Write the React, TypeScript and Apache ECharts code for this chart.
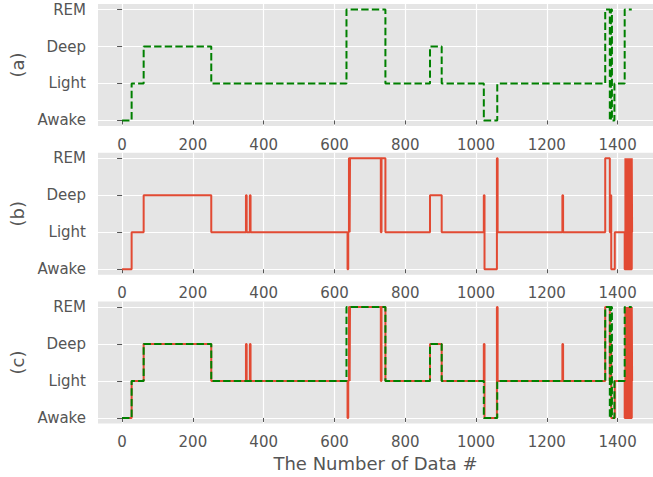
import React, { useEffect, useRef } from "react";
import * as echarts from "echarts";

const stageLabels = ["Awake", "Light", "Deep", "REM"];
const xTicks = [0, 200, 400, 600, 800, 1000, 1200, 1400];
const yTicks = [0, 1, 2, 3];
const panelNames = ["(a)", "(b)", "(c)"];
const xTitle = "The Number of Data #";

// reference (green dashed): start index of each segment and its stage
const trueStarts = [0, 27, 61, 252, 634, 744, 870, 903, 1022, 1060, 1365, 1378, 1381, 1384, 1391, 1420, 1440];
const trueStages = [0, 1, 2, 1, 3, 1, 2, 1, 0, 1, 3, 0, 3, 0, 1, 3, 3];

// predicted (red solid)
const predStarts = [0, 27, 61, 252, 350, 352, 361, 363, 637, 639, 641, 643, 644, 731, 733, 744, 870, 903, 1022, 1024, 1059, 1061, 1244, 1246, 1365, 1378, 1380, 1382, 1392, 1420, 1422, 1423, 1425, 1426, 1428, 1429, 1431, 1432, 1434, 1435, 1437, 1438, 1440, 1441, 1442];
const predStages = [0, 1, 2, 1, 2, 1, 2, 1, 0, 1, 3, 1, 3, 1, 3, 1, 2, 1, 2, 0, 3, 1, 2, 1, 3, 1, 2, 0, 1, 0, 3, 0, 3, 0, 3, 0, 3, 0, 3, 0, 3, 0, 3, 1, 1];

const FONT = "DejaVu Sans";
const TXT = "#555555";
const GREEN = "#008000";
const RED = "#E24A33";

export default function App() {
  const ref = useRef<HTMLDivElement>(null);
  useEffect(() => {
    if (!ref.current) return;
    const chart = echarts.init(ref.current, null, { renderer: "svg" });
    const tops = [4, 152.8, 301.5];
    const grids = tops.map((t) => ({
      left: 95,
      top: t,
      width: 558,
      height: 122,
      show: true,
      backgroundColor: "#E5E5E5",
      borderWidth: 0,
    }));
    const xAxes = tops.map((_, i) => ({
      type: "value",
      gridIndex: i,
      min: -68,
      max: 1500,
      axisLine: { show: false },
      axisTick: { show: true, length: 4, lineStyle: { color: TXT }, customValues: xTicks },
      axisLabel: {
        color: TXT,
        fontFamily: FONT,
        fontSize: 15,
        margin: 11,
        customValues: xTicks,
        formatter: (v: number) => String(v),
      },
      splitLine: { show: true, lineStyle: { color: "#FFFFFF", width: 1.2 } },
      name: i === 2 ? xTitle : "",
      nameLocation: "middle",
      nameGap: 31,
      nameTextStyle: { color: TXT, fontFamily: FONT, fontSize: 18 },
    }));
    const yAxes = tops.map((_, i) => ({
      type: "value",
      gridIndex: i,
      min: -0.15,
      max: 3.15,
      axisLine: { show: false },
      axisTick: { show: true, length: 5, lineStyle: { color: TXT }, customValues: yTicks },
      axisLabel: {
        color: TXT,
        fontFamily: FONT,
        fontSize: 15,
        margin: 12,
        customValues: yTicks,
        formatter: (v: number) => stageLabels[Math.round(v)] ?? "",
      },
      splitLine: { show: true, lineStyle: { color: "#FFFFFF", width: 1.2 } },
      name: panelNames[i],
      nameLocation: "middle",
      nameRotate: 90,
      nameGap: 72,
      nameTextStyle: { color: TXT, fontFamily: FONT, fontSize: 18 },
    }));
    const trueData = trueStarts.map((x, k) => [x, trueStages[k]]);
    const predData = predStarts.map((x, k) => [x, predStages[k]]);
    const green = (i: number) => ({
      type: "line",
      xAxisIndex: i,
      yAxisIndex: i,
      step: "end",
      showSymbol: false,
      symbol: "none",
      data: trueData,
      lineStyle: { color: GREEN, width: 2, type: [7.4, 3.2] },
      z: 4,
    });
    const red = (i: number) => ({
      type: "line",
      xAxisIndex: i,
      yAxisIndex: i,
      step: "end",
      showSymbol: false,
      symbol: "none",
      data: predData,
      lineStyle: { color: RED, width: 2 },
      z: 3,
    });
    chart.setOption({
      animation: false,
      grid: grids,
      xAxis: xAxes,
      yAxis: yAxes,
      series: [green(0), red(1), red(2), green(2)],
    });
    return () => chart.dispose();
  }, []);
  return (
    <div
      ref={ref}
      style={{ position: "absolute", left: 0, top: 0, width: 653, height: 477, background: "#FFFFFF" }}
    />
  );
}
